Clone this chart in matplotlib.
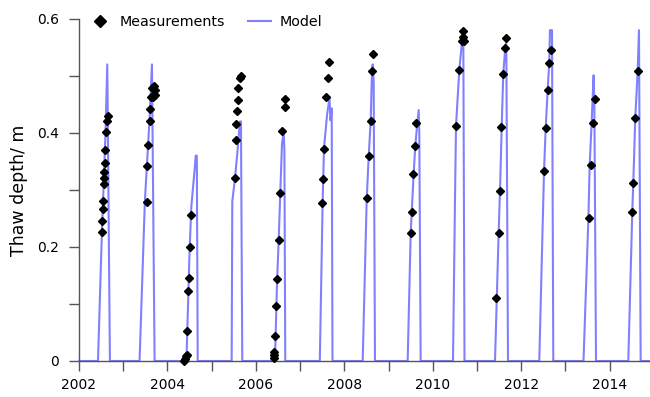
import matplotlib
matplotlib.use("Agg")
import matplotlib.pyplot as plt

# modelled thaw depth (decimal year, m); zero between the seasons
model_year = [
    2002.0,
    2002.43, 2002.52, 2002.60, 2002.64, 2002.70,
    2003.37, 2003.49, 2003.60, 2003.65, 2003.71,
    2004.43, 2004.50, 2004.54, 2004.62, 2004.64, 2004.665, 2004.685,
    2005.453, 2005.467, 2005.528, 2005.58, 2005.641, 2005.663, 2005.693,
    2006.432, 2006.478, 2006.516, 2006.552, 2006.591, 2006.629, 2006.645, 2006.665,
    2007.446, 2007.511, 2007.541, 2007.609, 2007.665, 2007.688, 2007.715, 2007.733,
    2008.416, 2008.506, 2008.551, 2008.597, 2008.626, 2008.642, 2008.664, 2008.694,
    2009.433, 2009.501, 2009.569, 2009.605, 2009.637, 2009.682, 2009.696, 2009.727,
    2010.458, 2010.503, 2010.526, 2010.601, 2010.661, 2010.691, 2010.718,
    2011.408, 2011.49, 2011.521, 2011.559, 2011.595, 2011.641, 2011.663, 2011.702,
    2012.409, 2012.50, 2012.516, 2012.554, 2012.599, 2012.635, 2012.651, 2012.697, 2012.726,
    2013.409, 2013.52, 2013.548, 2013.593, 2013.638, 2013.655, 2013.692,
    2014.422, 2014.512, 2014.535, 2014.58, 2014.634, 2014.664, 2014.702,
    2014.95,
]
model_depth = [
    0.0,
    0.0, 0.23, 0.40, 0.52, 0.0,
    0.0, 0.28, 0.43, 0.52, 0.0,
    0.0, 0.19, 0.27, 0.34, 0.36, 0.36, 0.0,
    0.0, 0.28, 0.32, 0.364, 0.42, 0.42, 0.0,
    0.0, 0.136, 0.212, 0.294, 0.381, 0.402, 0.37, 0.0,
    0.0, 0.282, 0.373, 0.431, 0.461, 0.422, 0.443, 0.0,
    0.0, 0.282, 0.358, 0.422, 0.507, 0.52, 0.49, 0.0,
    0.0, 0.224, 0.329, 0.377, 0.405, 0.44, 0.40, 0.0,
    0.0, 0.282, 0.412, 0.511, 0.559, 0.577, 0.0,
    0.0, 0.224, 0.299, 0.41, 0.504, 0.55, 0.561, 0.0,
    0.0, 0.282, 0.332, 0.408, 0.475, 0.524, 0.58, 0.58, 0.0,
    0.0, 0.25, 0.343, 0.417, 0.501, 0.45, 0.0,
    0.0, 0.261, 0.312, 0.426, 0.508, 0.58, 0.0,
    0.0,
]

# measured thaw depth
meas_year = [
    2002.656, 2002.633, 2002.618, 2002.595, 2002.581, 2002.573, 2002.566, 2002.558, 2002.543, 2002.535, 2002.520, 2002.513,
    2003.531, 2003.531, 2003.554, 2003.599, 2003.606, 2003.621, 2003.658, 2003.696, 2003.725, 2003.725, 2003.680,
    2004.526, 2004.503, 2004.488, 2004.472, 2004.449, 2004.436, 2004.420, 2004.397, 2004.375,
    2005.528, 2005.544, 2005.557, 2005.566, 2005.589, 2005.602, 2005.648, 2005.670,
    2006.665, 2006.652, 2006.598, 2006.552, 2006.516, 2006.478, 2006.455, 2006.439, 2006.416, 2006.410, 2006.403,
    2007.660, 2007.631, 2007.593, 2007.547, 2007.518, 2007.495,
    2008.655, 2008.626, 2008.597, 2008.551, 2008.520,
    2009.628, 2009.605, 2009.560, 2009.524, 2009.501,
    2010.691, 2010.677, 2010.713, 2010.661, 2010.601, 2010.526,
    2011.663, 2011.634, 2011.595, 2011.550, 2011.521, 2011.491, 2011.430,
    2012.667, 2012.635, 2012.599, 2012.554, 2012.516,
    2013.669, 2013.616, 2013.571, 2013.525,
    2014.634, 2014.580, 2014.535, 2014.512,
]
meas_depth = [
    0.430, 0.421, 0.402, 0.370, 0.347, 0.331, 0.321, 0.311, 0.281, 0.267, 0.245, 0.226,
    0.279, 0.342, 0.378, 0.420, 0.441, 0.462, 0.479, 0.482, 0.475, 0.467, 0.463,
    0.256, 0.200, 0.146, 0.123, 0.053, 0.011, 0.008, 0.003, 0.0,
    0.321, 0.387, 0.415, 0.438, 0.458, 0.478, 0.497, 0.500,
    0.460, 0.445, 0.403, 0.294, 0.212, 0.144, 0.097, 0.044, 0.016, 0.011, 0.006,
    0.525, 0.496, 0.462, 0.372, 0.319, 0.277,
    0.538, 0.508, 0.421, 0.359, 0.285,
    0.417, 0.377, 0.327, 0.262, 0.225,
    0.579, 0.568, 0.561, 0.561, 0.511, 0.412,
    0.567, 0.548, 0.503, 0.410, 0.298, 0.225, 0.110,
    0.546, 0.523, 0.475, 0.408, 0.333,
    0.459, 0.417, 0.343, 0.250,
    0.508, 0.426, 0.312, 0.261,
]

year_ticks = list(range(2002, 2015))
depth_ticks = [0, 0.1, 0.2, 0.3, 0.4, 0.5, 0.6]
depth_labels = ["0", "", "0.2", "", "0.4", "", "0.6"]

fig = plt.figure(figsize=(6.5, 3.97), dpi=100)
ax = fig.add_axes([0.1215, 0.0907, 0.8785, 0.862])

ax.plot(model_year, model_depth, color="#8080ff", lw=1.5, label="Model",
        clip_on=False, zorder=2)
ax.plot(meas_year, meas_depth, ls="none", marker="D", ms=4.5, color="black",
        label="Measurements", clip_on=False, zorder=3)

ax.set_xlim(2002.0, 2014.913)
ax.set_ylim(0, 0.6)

ax.set_xticks(year_ticks)
ax.set_xticklabels([str(y) if y % 2 == 0 else "" for y in year_ticks])
ax.set_yticks(depth_ticks)
ax.set_yticklabels(depth_labels)

for s in ["top", "right"]:
    ax.spines[s].set_visible(False)
for s in ["left", "bottom"]:
    ax.spines[s].set_color("#555555")
    ax.spines[s].set_linewidth(1.0)
ax.tick_params(axis="both", direction="out", length=7.2, width=1.0,
               color="#555555", labelsize=10, labelcolor="black")
ax.tick_params(axis="y", pad=7)
ax.tick_params(axis="x", pad=5)

ax.set_ylabel("Thaw depth/ m", fontsize=12.5, labelpad=7)

handles, labels = ax.get_legend_handles_labels()
ax.legend(handles[::-1], labels[::-1], ncol=2, loc="upper left",
          bbox_to_anchor=(0.0166, 1.01), frameon=False, borderaxespad=0,
          borderpad=0, handlelength=1.6, handletextpad=0.6,
          columnspacing=1.6, fontsize=10.3, markerscale=1.4)

fig.savefig("out.png", dpi=100)
